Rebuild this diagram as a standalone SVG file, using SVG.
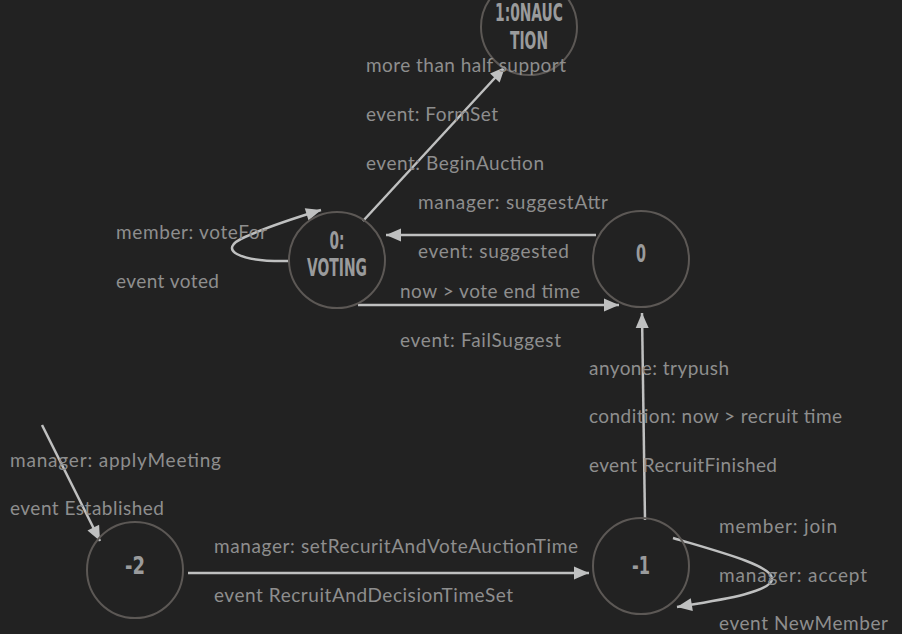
<svg xmlns="http://www.w3.org/2000/svg" width="902" height="634" viewBox="0 0 902 634">
<style>
.bg{fill:#222222}
.node circle{fill:none;stroke:#5c5855;stroke-width:2}
.nt{font-family:"DejaVu Sans Condensed","DejaVu Sans",sans-serif;font-weight:bold;font-size:24px;fill:#9a9b9c;text-anchor:middle}
.lb{font-family:Lato,"Noto Sans",sans-serif;font-size:19px;fill:#8e8e8e}
.edge{fill:none;stroke:#bfc0c0;stroke-width:2.5}
</style>
<defs>
<marker id="ah" markerUnits="userSpaceOnUse" markerWidth="30" markerHeight="30" refX="0" refY="0" orient="auto" style="overflow:visible">
<path d="M-15,-6.5 L0,0 L-15,6.5 z" fill="#bfc0c0"/>
</marker>
</defs>
<rect class="bg" width="902" height="634"/>
<g id="connectors">
<path class="edge" d="M363,221 L505,67" marker-end="url(#ah)"/>
<path class="edge" d="M596,235 L386,235" marker-end="url(#ah)"/>
<path class="edge" d="M358,305 L619,305" marker-end="url(#ah)"/>
<path class="edge" d="M645,520 L642,313" marker-end="url(#ah)"/>
<path class="edge" d="M188,573 L589,573" marker-end="url(#ah)"/>
<path class="edge" d="M42,425 L100,541" marker-end="url(#ah)"/>
<path class="edge" d="M289,261 C240,262 215,250 245,237 C265,228 298,217 321,210" marker-end="url(#ah)"/>
<path class="edge" d="M673,538 C720,552 770,565 772,578 C774,592 720,600 677,607" marker-end="url(#ah)"/>
</g>
<g id="n-onauction" class="node"><circle cx="529" cy="27" r="48"/><text class="nt" x="529" y="21" textLength="68" lengthAdjust="spacingAndGlyphs">1:0NAUC</text><text class="nt" x="529" y="49" textLength="38" lengthAdjust="spacingAndGlyphs">TION</text></g>
<g id="n-voting" class="node"><circle cx="337" cy="260" r="48"/><text class="nt" x="337" y="249" textLength="15" lengthAdjust="spacingAndGlyphs">0:</text><text class="nt" x="337" y="276" textLength="60" lengthAdjust="spacingAndGlyphs">VOTING</text></g>
<g id="n-0" class="node"><circle cx="641" cy="259" r="48"/><text class="nt" x="641" y="262" textLength="10" lengthAdjust="spacingAndGlyphs">0</text></g>
<g id="n-m2" class="node"><circle cx="135" cy="570" r="48"/><text class="nt" x="135" y="574" textLength="20" lengthAdjust="spacingAndGlyphs">-2</text></g>
<g id="n-m1" class="node"><circle cx="641" cy="566" r="48"/><text class="nt" x="641" y="574" textLength="18" lengthAdjust="spacingAndGlyphs">-1</text></g>
<g id="labels">
<text class="lb" x="366" y="72" textLength="200">more than half support</text>
<text class="lb" x="366" y="121" textLength="132">event: FormSet</text>
<text class="lb" x="366" y="170" textLength="178">event: BeginAuction</text>
<text class="lb" x="418" y="209" textLength="190">manager: suggestAttr</text>
<text class="lb" x="418" y="258" textLength="151">event: suggested</text>
<text class="lb" x="116" y="239" textLength="151">member: voteFor</text>
<text class="lb" x="116" y="288" textLength="103">event voted</text>
<text class="lb" x="400" y="298" textLength="180">now &gt; vote end time</text>
<text class="lb" x="400" y="347" textLength="161">event: FailSuggest</text>
<text class="lb" x="589" y="375" textLength="140">anyone: trypush</text>
<text class="lb" x="589" y="423" textLength="253">condition: now &gt; recruit time</text>
<text class="lb" x="589" y="472" textLength="188">event RecruitFinished</text>
<text class="lb" x="10" y="467" textLength="211">manager: applyMeeting</text>
<text class="lb" x="10" y="515" textLength="154">event Established</text>
<text class="lb" x="214" y="553" textLength="364">manager: setRecuritAndVoteAuctionTime</text>
<text class="lb" x="214" y="602" textLength="299">event RecruitAndDecisionTimeSet</text>
<text class="lb" x="719" y="533" textLength="118">member: join</text>
<text class="lb" x="719" y="582" textLength="148">manager: accept</text>
<text class="lb" x="719" y="630" textLength="169">event NewMember</text>
</g>
</svg>
